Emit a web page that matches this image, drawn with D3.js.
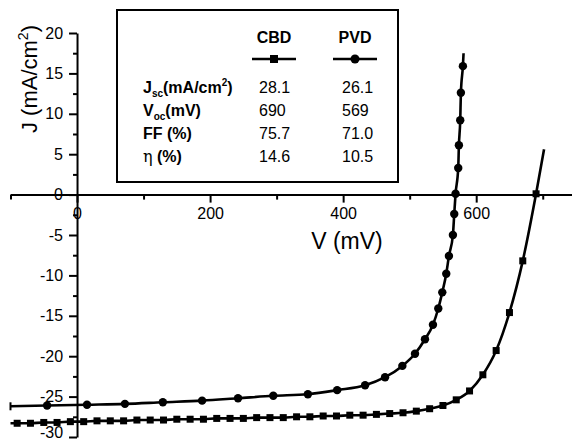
<!DOCTYPE html>
<html>
<head>
<meta charset="utf-8">
<script src="https://cdn.jsdelivr.net/npm/d3@7"></script>
<style>
  body { margin: 0; background: #fff; }
  svg { font-family: "Liberation Sans", Arial, sans-serif; }
  .axis path, .axis line { stroke: #000; stroke-width: 2; }
  .axis text { font-size: 16px; fill: #000; }
</style>
</head>
<body>
<svg width="572" height="442"></svg>
<script>
// J-V curves (V in mV, J in mA/cm2)
var cbdV = [-90, -70, -50, -30, -10, 10, 30, 50, 70, 90, 110, 130, 150, 170, 190, 210, 230, 250,
            270, 290, 310, 330, 350, 370, 390, 410, 430, 450, 470, 490, 510, 530, 550, 570,
            590, 610, 630, 650, 670, 690];
var cbdJ = [-28.3, -28.3, -28.2, -28.2, -28.1, -28.1, -28.0, -28.0, -28.0, -27.9, -27.9, -27.9,
            -27.8, -27.8, -27.8, -27.7, -27.7, -27.7, -27.6, -27.6, -27.6, -27.5, -27.5, -27.4,
            -27.4, -27.3, -27.3, -27.2, -27.1, -27.0, -26.8, -26.5, -26.1, -25.4, -24.3, -22.3,
            -19.3, -14.6, -8.2, 0.1];
var cbdEnd = [702, 5.6];

var pvdV = [-45, 15, 72, 129, 188, 242, 295, 347, 391, 433, 463, 489, 508, 523, 535, 543, 549,
            555, 559, 565, 567, 569, 573, 574, 576, 577, 580];
var pvdJ = [-26.1, -26.0, -25.9, -25.7, -25.5, -25.2, -24.9, -24.7, -24.2, -23.6, -22.6, -21.2,
            -19.7, -17.9, -16.1, -14.1, -12.1, -9.8, -7.6, -5.0, -2.4, 0.1, 3.3, 6.1, 9.2, 12.6, 15.9];
var pvdStart = [-100, -26.2];
var pvdEnd = [581, 17.5];

// table in the inset box
var seriesNames = ["CBD", "PVD"];
var cbdValues = ["28.1", "690", "75.7", "14.6"];
var pvdValues = ["26.1", "569", "71.0", "10.5"];

var xMajorTicks = [0, 200, 400, 600];
var xMinorTicks = [-100, 100, 300, 500, 700];
var yMajorTicks = [-30, -25, -20, -15, -10, -5, 0, 5, 10, 15, 20];
var yMinorTicks = d3.range(-27.5, 20, 5);

var svg = d3.select("svg");

var x = d3.scaleLinear().domain([-100, 744]).range([10.5, 572]);
var y = d3.scaleLinear().domain([-30, 20]).range([437, 33]);

// axes
svg.append("g").attr("class", "axis")
    .attr("transform", "translate(0," + y(0) + ")")
    .call(d3.axisBottom(x).tickValues(xMajorTicks).tickSize(8).tickSizeOuter(0)
      .tickPadding(5).tickFormat(function(d){ return String(d); }));
svg.append("g").attr("class", "axis")
    .attr("transform", "translate(0," + y(0) + ")")
    .call(d3.axisBottom(x).tickValues(xMinorTicks).tickSize(5).tickSizeOuter(0).tickFormat(""))
    .select(".domain").remove();

var yAxis = svg.append("g").attr("class", "axis")
    .attr("transform", "translate(" + x(0) + ",0)")
    .call(d3.axisLeft(y).tickValues(yMajorTicks).tickSize(8).tickSizeOuter(0)
      .tickPadding(6).tickFormat(function(d){ return String(d); }));
// bottom label sits right on the edge, lift it a little
yAxis.selectAll(".tick text").filter(function(d){ return d === -30; }).attr("y", -5);
svg.append("g").attr("class", "axis")
    .attr("transform", "translate(" + x(0) + ",0)")
    .call(d3.axisLeft(y).tickValues(yMinorTicks).tickSize(4).tickSizeOuter(0).tickFormat(""))
    .select(".domain").remove();

// axis titles
svg.append("text")
    .attr("x", 347).attr("y", 249)
    .attr("text-anchor", "middle")
    .style("font-size", "23px")
    .text("V (mV)");

var yTitle = svg.append("text")
    .attr("transform", "translate(37,79) rotate(-90)")
    .attr("text-anchor", "middle")
    .style("font-size", "22px");
yTitle.append("tspan").text("J (mA/cm");
yTitle.append("tspan").attr("dy", -9).style("font-size", "14px").text("2");
yTitle.append("tspan").attr("dy", 9).text(")");

// curves
var line = d3.line()
    .x(function(d){ return x(d[0]); })
    .y(function(d){ return y(d[1]); })
    .curve(d3.curveMonotoneX);

var cbdPts = cbdV.map(function(v, i){ return [v, cbdJ[i]]; });
var pvdPts = pvdV.map(function(v, i){ return [v, pvdJ[i]]; });

svg.append("path")
    .attr("d", line([[-100, cbdJ[0]]].concat(cbdPts, [cbdEnd])))
    .attr("fill", "none").attr("stroke", "#000").attr("stroke-width", 2.6);
svg.append("path")
    .attr("d", line([pvdStart].concat(pvdPts, [pvdEnd])))
    .attr("fill", "none").attr("stroke", "#000").attr("stroke-width", 2.6);

svg.append("g").selectAll("rect")
    .data(cbdPts).enter().append("rect")
    .attr("x", function(d){ return x(d[0]) - 3.5; })
    .attr("y", function(d){ return y(d[1]) - 3.5; })
    .attr("width", 7).attr("height", 7)
    .attr("fill", "#000");

svg.append("g").selectAll("circle")
    .data(pvdPts).enter().append("circle")
    .attr("cx", function(d){ return x(d[0]); })
    .attr("cy", function(d){ return y(d[1]); })
    .attr("r", 4.2)
    .attr("fill", "#000");

// left end cap of the PVD line
svg.append("line")
    .attr("x1", x(pvdStart[0])).attr("x2", x(pvdStart[0]))
    .attr("y1", y(pvdStart[1]) - 4).attr("y2", y(pvdStart[1]) + 4)
    .attr("stroke", "#000").attr("stroke-width", 2);

// inset table
var box = svg.append("g");
box.append("rect")
    .attr("x", 117).attr("y", 10).attr("width", 281).attr("height", 172)
    .attr("fill", "#fff").attr("stroke", "#000").attr("stroke-width", 2);

var colX = [259, 342], colMid = [274, 355];
var rowY = [93, 116, 139, 162];

seriesNames.forEach(function(name, i){
  box.append("text")
      .attr("x", colMid[i]).attr("y", 43)
      .attr("text-anchor", "middle")
      .style("font-size", "16px").style("font-weight", "bold")
      .text(name);
  box.append("line")
      .attr("x1", colMid[i] - 22).attr("x2", colMid[i] + 22)
      .attr("y1", 59).attr("y2", 59)
      .attr("stroke", "#000").attr("stroke-width", 2.6);
});
box.append("rect").attr("x", colMid[0] - 4).attr("y", 55).attr("width", 8).attr("height", 8);
box.append("circle").attr("cx", colMid[1]).attr("cy", 59).attr("r", 4.5);

function label(i) {
  return box.append("text")
      .attr("x", 143).attr("y", rowY[i])
      .style("font-size", "16px").style("font-weight", "bold");
}
var t = label(0);
t.append("tspan").text("J");
t.append("tspan").attr("dy", 4).style("font-size", "10px").text("sc");
t.append("tspan").attr("dy", -4).text("(mA/cm");
t.append("tspan").attr("dy", -7).style("font-size", "10px").text("2");
t.append("tspan").attr("dy", 7).text(")");
t = label(1);
t.append("tspan").text("V");
t.append("tspan").attr("dy", 4).style("font-size", "10px").text("oc");
t.append("tspan").attr("dy", -4).text("(mV)");
label(2).text("FF (%)");
t = label(3);
t.append("tspan").style("font-weight", "normal").style("font-family", "DejaVu Serif, serif").text("η");
t.append("tspan").text(" (%)");

[cbdValues, pvdValues].forEach(function(vals, c){
  vals.forEach(function(v, r){
    box.append("text")
        .attr("x", colX[c]).attr("y", rowY[r])
        .style("font-size", "16px")
        .text(v);
  });
});
</script>
</body>
</html>
